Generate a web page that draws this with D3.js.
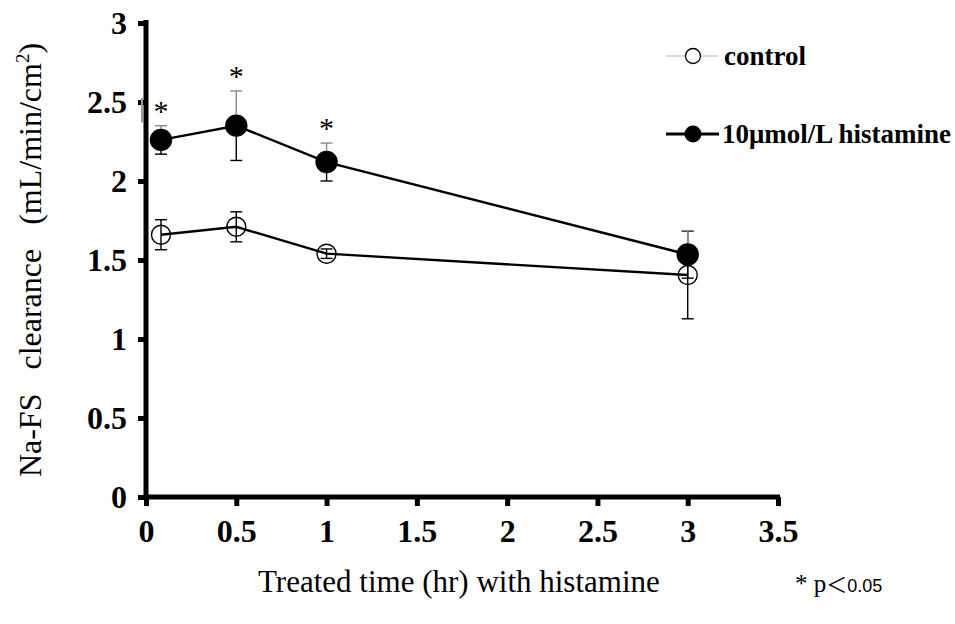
<!DOCTYPE html>
<html>
<head>
<meta charset="utf-8">
<script src="https://cdn.jsdelivr.net/npm/d3@7/dist/d3.min.js"></script>
<style>
  html, body { margin: 0; padding: 0; background: #fff; }
  svg { display: block; }
</style>
</head>
<body>
<svg id="chart" width="955" height="624"></svg>
<script>
// Time points (hr) and Na-FS clearance values (mean ± error)
const times = [0.083, 0.5, 1, 3];
const controlMean = [1.66, 1.71, 1.54, 1.405];
const controlErr  = [0.095, 0.095, 0.03, 0.277];
const histMean    = [2.26, 2.35, 2.12, 1.535];
const histErr     = [0.09, 0.22, 0.12, 0.15];
const significant = [true, true, true, false];

const xTicks = [0, 0.5, 1, 1.5, 2, 2.5, 3, 3.5];
const yTicks = [0, 0.5, 1, 1.5, 2, 2.5, 3];

const SERIF = '"Liberation Serif", "Times New Roman", serif';

const svg = d3.select("#chart");
const x = d3.scaleLinear().domain([0, 3.5]).range([146, 778]);
const y = d3.scaleLinear().domain([0, 3]).range([497, 23]);

// Axes
const fmt = d => String(d);
const yAxis = d3.axisLeft(y).tickValues(yTicks).tickFormat(fmt).tickSize(8).tickPadding(11);
const xAxis = d3.axisBottom(x).tickValues(xTicks).tickFormat(fmt).tickSize(9).tickPadding(10);

const gy = svg.append("g").attr("transform", `translate(${x(0)},0)`).call(yAxis);
const gx = svg.append("g").attr("transform", `translate(0,${y(0)})`).call(xAxis);

[gx, gy].forEach(g => {
  g.select(".domain").remove();
  g.selectAll(".tick line").attr("stroke", "#000").attr("stroke-width", 5);
  g.selectAll(".tick text")
    .style("font-family", SERIF)
    .style("font-weight", "bold")
    .style("font-size", "32px")
    .attr("fill", "#000");
});
gx.selectAll(".tick text").attr("dy", "0.8em");

// faint vertical streak beside the axis near 2.5
svg.append("line").attr("x1", x(0) - 4).attr("x2", x(0) - 4).attr("y1", y(2.5) - 4).attr("y2", y(2.37))
  .attr("stroke", "#9a9a9a").attr("stroke-width", 2);

svg.append("line").attr("x1", x(0)).attr("x2", x(0)).attr("y1", y(3) - 3).attr("y2", y(0) + 2)
  .attr("stroke", "#000").attr("stroke-width", 5);
svg.append("line").attr("x1", x(0) - 2).attr("x2", x(3.5) + 2).attr("y1", y(0)).attr("y2", y(0))
  .attr("stroke", "#000").attr("stroke-width", 5);

// Series
const series = [
  { mean: controlMean, err: controlErr, filled: false, r: 9.5 },
  { mean: histMean, err: histErr, filled: true, r: 10.5 }
];

const line = d3.line().x(d => x(d[0])).y(d => y(d[1]));

series.forEach((s, si) => {
  const pts = times.map((t, i) => [t, s.mean[i], s.err[i]]);
  const g = svg.append("g");
  // error bars (upper half of the treated series is drawn lighter)
  pts.forEach(p => {
    const cx = x(p[0]);
    const upColor = si === 1 ? "#8a8a8a" : "#000";
    const hi = y(p[1] + p[2]), lo = y(p[1] - p[2]);
    g.append("line").attr("x1", cx).attr("x2", cx).attr("y1", y(p[1])).attr("y2", hi)
      .attr("stroke", upColor).attr("stroke-width", 1.4);
    g.append("line").attr("x1", cx - 6).attr("x2", cx + 6).attr("y1", hi).attr("y2", hi)
      .attr("stroke", upColor).attr("stroke-width", 1.4);
    g.append("line").attr("x1", cx).attr("x2", cx).attr("y1", y(p[1])).attr("y2", lo)
      .attr("stroke", "#000").attr("stroke-width", 1.4);
    g.append("line").attr("x1", cx - 6).attr("x2", cx + 6).attr("y1", lo).attr("y2", lo)
      .attr("stroke", "#000").attr("stroke-width", 1.4);
  });
  g.append("path").datum(pts).attr("d", line)
    .attr("fill", "none").attr("stroke", "#000").attr("stroke-width", 2.4);
  g.selectAll("circle").data(pts).join("circle")
    .attr("cx", d => x(d[0])).attr("cy", d => y(d[1])).attr("r", s.r)
    .attr("fill", s.filled ? "#000" : "none")
    .attr("stroke", "#000").attr("stroke-width", 1.4);
});

// significance markers above the treated series
times.forEach((t, i) => {
  if (!significant[i]) return;
  svg.append("text")
    .attr("x", x(t)).attr("y", y(histMean[i] + histErr[i]) - 5)
    .attr("text-anchor", "middle")
    .style("font-family", SERIF)
    .style("font-size", "30px")
    .text("*");
});

// Legend
const lg = svg.append("g").style("font-family", SERIF);
lg.append("line").attr("x1", 666).attr("x2", 718).attr("y1", 56).attr("y2", 56)
  .attr("stroke", "#b5b5b5").attr("stroke-width", 1);
lg.append("circle").attr("cx", 693).attr("cy", 56).attr("r", 7.5)
  .attr("fill", "#fff").attr("stroke", "#000").attr("stroke-width", 1.3);
lg.append("text").attr("x", 724).attr("y", 65)
  .style("font-size", "27px").style("font-weight", "bold").text("control");
lg.append("line").attr("x1", 666).attr("x2", 719).attr("y1", 134).attr("y2", 134)
  .attr("stroke", "#000").attr("stroke-width", 3);
lg.append("circle").attr("cx", 693).attr("cy", 134).attr("r", 8.5).attr("fill", "#000");
lg.append("text").attr("x", 722).attr("y", 143)
  .style("font-size", "27px").style("font-weight", "bold").text("10μmol/L histamine");

// Axis titles
const yt = svg.append("text")
  .attr("transform", "translate(41,260) rotate(-90)")
  .attr("text-anchor", "middle")
  .style("font-family", SERIF)
  .style("font-size", "32px");
yt.append("tspan").text("Na-FS\u00A0\u00A0\u00A0clearance\u00A0\u00A0\u00A0(mL/min/cm");
yt.append("tspan").attr("dy", -12).style("font-size", "19px").text("2");
yt.append("tspan").attr("dy", 12).text(")");

svg.append("text").attr("x", 258).attr("y", 592)
  .style("font-family", SERIF)
  .style("font-size", "31px").text("Treated time (hr) with histamine");

const pt = svg.append("text").attr("x", 795).attr("y", 592)
  .style("font-family", SERIF).style("font-size", "25px");
pt.append("tspan").text("* p");
pt.append("tspan").style("font-family", '"Noto Sans CJK JP", sans-serif').style("font-size", "21px").text("＜");
pt.append("tspan").style("font-family", '"Liberation Sans", sans-serif').style("font-size", "18px").text("0.05");
</script>
</body>
</html>
